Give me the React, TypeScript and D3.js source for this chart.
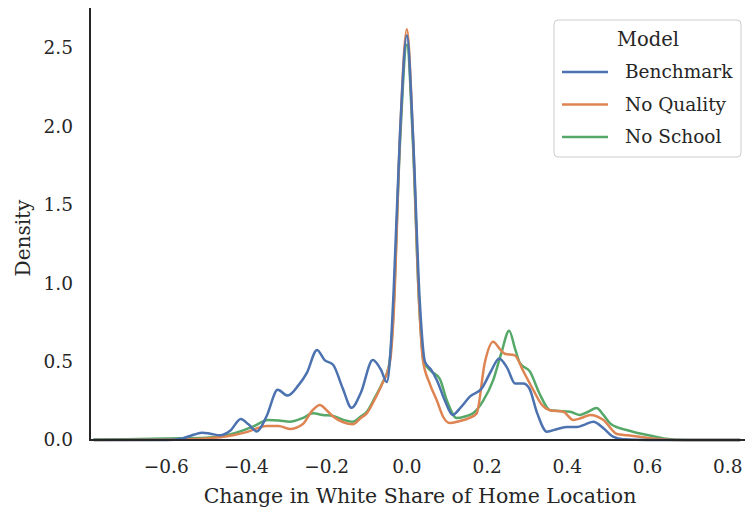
import React from "react";
import * as d3 from "d3";

const xTicks = [-0.6, -0.4, -0.2, 0.0, 0.2, 0.4, 0.6, 0.8];
const yTicks = [0.0, 0.5, 1.0, 1.5, 2.0, 2.5];
const seriesNames = ["Benchmark", "No Quality", "No School"];
const seriesColors = ["#4c72b0", "#dd8452", "#55a868"];

const benchmark: [number, number][] = [
  [-0.78, 0], [-0.6, 0.0], [-0.56, 0.01], [-0.53, 0.035], [-0.51, 0.047], [-0.49, 0.04],
  [-0.466, 0.03], [-0.44, 0.06], [-0.414, 0.134], [-0.395, 0.1], [-0.374, 0.055], [-0.35, 0.15],
  [-0.322, 0.32], [-0.297, 0.283], [-0.27, 0.35], [-0.249, 0.43], [-0.224, 0.574], [-0.205, 0.51],
  [-0.184, 0.48], [-0.16, 0.33], [-0.138, 0.205], [-0.115, 0.3], [-0.085, 0.51], [-0.065, 0.45],
  [-0.05, 0.37], [-0.04, 0.6], [-0.033, 0.95], [-0.017, 1.96], [0, 2.58], [0.015, 1.96],
  [0.032, 0.89], [0.045, 0.5], [0.06, 0.45], [0.075, 0.38], [0.095, 0.25], [0.114, 0.16],
  [0.135, 0.21], [0.157, 0.276], [0.187, 0.33], [0.21, 0.44], [0.23, 0.52], [0.25, 0.46],
  [0.27, 0.36], [0.29, 0.36], [0.305, 0.33], [0.325, 0.17], [0.349, 0.053], [0.375, 0.07],
  [0.4, 0.083], [0.424, 0.083], [0.445, 0.1], [0.465, 0.117], [0.49, 0.075], [0.514, 0.021],
  [0.54, 0.004], [0.6, 0], [0.83, 0],
];

const noQuality: [number, number][] = [
  [-0.78, 0], [-0.6, 0.002], [-0.5, 0.01], [-0.434, 0.03], [-0.4, 0.05], [-0.35, 0.09],
  [-0.32, 0.09], [-0.292, 0.07], [-0.26, 0.1], [-0.235, 0.19], [-0.217, 0.223], [-0.2, 0.19],
  [-0.184, 0.15], [-0.16, 0.115], [-0.135, 0.1], [-0.115, 0.14], [-0.1, 0.17], [-0.08, 0.26],
  [-0.063, 0.35], [-0.042, 0.5], [-0.033, 0.8], [-0.017, 1.95], [0, 2.62], [0.015, 1.95],
  [0.03, 0.9], [0.04, 0.51], [0.057, 0.36], [0.075, 0.25], [0.09, 0.15], [0.107, 0.108],
  [0.13, 0.12], [0.155, 0.14], [0.174, 0.17], [0.194, 0.49], [0.215, 0.627], [0.232, 0.58],
  [0.244, 0.55], [0.269, 0.54], [0.29, 0.44], [0.315, 0.32], [0.335, 0.23], [0.357, 0.19],
  [0.39, 0.18], [0.415, 0.128], [0.435, 0.14], [0.457, 0.16], [0.49, 0.128], [0.524, 0.038],
  [0.55, 0.03], [0.58, 0.02], [0.62, 0.008], [0.68, 0], [0.83, 0],
];

const noSchool: [number, number][] = [
  [-0.78, 0.003], [-0.7, 0.005], [-0.6, 0.01], [-0.5, 0.015], [-0.45, 0.03], [-0.41, 0.06],
  [-0.384, 0.085], [-0.346, 0.127], [-0.32, 0.125], [-0.292, 0.117], [-0.26, 0.14], [-0.234, 0.17],
  [-0.21, 0.16], [-0.184, 0.153], [-0.16, 0.13], [-0.135, 0.117], [-0.115, 0.15], [-0.1, 0.18],
  [-0.08, 0.27], [-0.06, 0.37], [-0.045, 0.47], [-0.035, 0.75], [-0.017, 1.9], [0, 2.52],
  [0.015, 1.9], [0.03, 0.9], [0.042, 0.5], [0.06, 0.44], [0.082, 0.39], [0.1, 0.25],
  [0.124, 0.14], [0.145, 0.15], [0.165, 0.17], [0.19, 0.25], [0.215, 0.38], [0.235, 0.55],
  [0.255, 0.697], [0.27, 0.58], [0.282, 0.49], [0.307, 0.436], [0.33, 0.3], [0.357, 0.19],
  [0.38, 0.185], [0.407, 0.18], [0.432, 0.16], [0.452, 0.18], [0.473, 0.204], [0.49, 0.16],
  [0.506, 0.108], [0.525, 0.08], [0.548, 0.064], [0.575, 0.045], [0.6, 0.032], [0.64, 0.01],
  [0.7, 0], [0.83, 0],
];

const seriesData = [benchmark, noQuality, noSchool];

const W = 745;
const H = 514;
const FONT = "'DejaVu Serif', serif";

export default function App() {
  const left = 90, right = 745, top = 8, bottom = 440;
  const x = d3.scaleLinear().domain([-0.79, 0.843]).range([left, right]);
  const y = d3.scaleLinear().domain([0, 2.755]).range([bottom, top]);
  const line = d3
    .line<[number, number]>()
    .x((d) => x(d[0]))
    .y((d) => y(d[1]))
    .curve(d3.curveMonotoneX);

  const drawOrder = [2, 1, 0];
  const fs = 18.5;

  return (
    <div style={{ position: "absolute", left: 0, top: 0 }}>
      <svg width={W} height={H} style={{ display: "block", background: "#fff" }}>
        <g>
          {drawOrder.map((i) => (
            <path
              key={seriesNames[i]}
              d={line(seriesData[i]) || ""}
              fill="none"
              stroke={seriesColors[i]}
              strokeWidth={2.5}
              strokeLinejoin="round"
              strokeLinecap="round"
            />
          ))}
        </g>
        <line x1={left} x2={left} y1={top} y2={bottom} stroke="#262626" strokeWidth={2} />
        <line x1={left - 1} x2={right} y1={bottom} y2={bottom} stroke="#262626" strokeWidth={2} />
        {yTicks.map((t) => (
          <text
            key={"y" + t}
            x={73}
            y={y(t)}
            dy="0.35em"
            textAnchor="end"
            fontFamily={FONT}
            fontSize={fs}
            fill="#262626"
          >
            {t.toFixed(1)}
          </text>
        ))}
        {xTicks.map((t) => (
          <text
            key={"x" + t}
            x={x(t)}
            y={473}
            textAnchor="middle"
            fontFamily={FONT}
            fontSize={fs}
            fill="#262626"
          >
            {(t < 0 ? "\u2212" : "") + Math.abs(t).toFixed(1)}
          </text>
        ))}
        <text
          x={420}
          y={503}
          textAnchor="middle"
          fontFamily={FONT}
          fontSize={20.5}
          fill="#262626"
        >
          Change in White Share of Home Location
        </text>
        <text
          transform={`translate(30,238) rotate(-90)`}
          textAnchor="middle"
          fontFamily={FONT}
          fontSize={20}
          fill="#262626"
        >
          Density
        </text>
        <g>
          <rect
            x={554}
            y={20}
            width={187}
            height={137}
            rx={4}
            fill="#fff"
            fillOpacity={0.8}
            stroke="#cccccc"
            strokeWidth={1}
          />
          <text x={648} y={46} textAnchor="middle" fontFamily={FONT} fontSize={19.5} fill="#262626">
            Model
          </text>
          {seriesNames.map((n, i) => (
            <g key={n}>
              <line
                x1={562}
                x2={608}
                y1={72 + i * 32.5}
                y2={72 + i * 32.5}
                stroke={seriesColors[i]}
                strokeWidth={2.5}
              />
              <text
                x={625}
                y={72 + i * 32.5}
                dy="0.35em"
                fontFamily={FONT}
                fontSize={fs}
                fill="#262626"
              >
                {n}
              </text>
            </g>
          ))}
        </g>
      </svg>
    </div>
  );
}
